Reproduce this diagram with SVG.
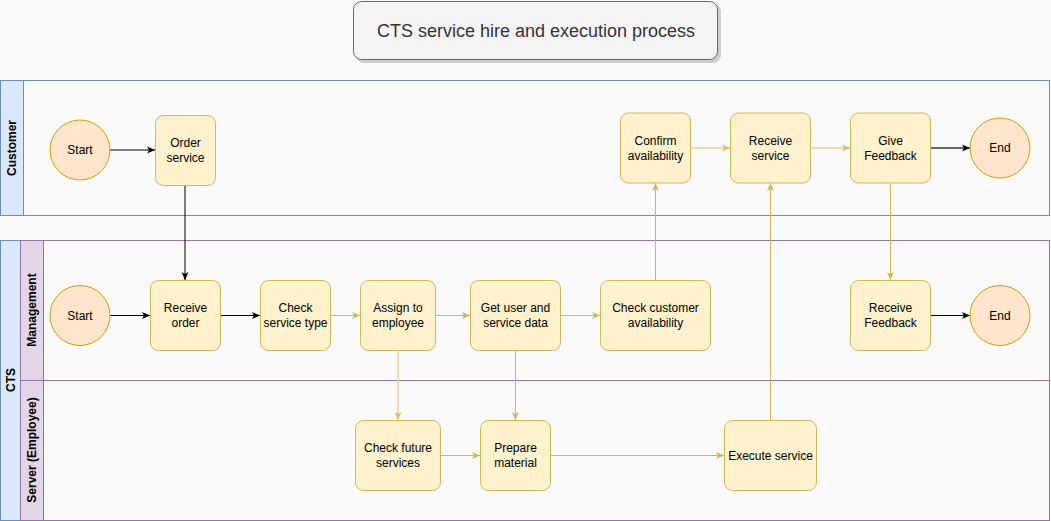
<svg xmlns="http://www.w3.org/2000/svg" width="1051" height="521" viewBox="0 0 1051 521">
<defs>
<style>
text{font-family:"Liberation Sans",Arial,sans-serif;font-size:12px;fill:#000;text-anchor:middle;dominant-baseline:central}
.lbl{font-weight:bold}
.task{fill:#fff2cc;stroke:#d6b656;stroke-width:1}
.ev{fill:#ffe6cc;stroke:#d79b00;stroke-width:1}
.blk{stroke:#000;stroke-width:1;fill:none}
.yel{stroke:#d6b656;stroke-width:1;fill:none}
.lyel{stroke:#e6d193;stroke-width:1.5;fill:none}
.gry{stroke:#666;stroke-width:2;fill:none}
</style>
<marker id="aB" markerUnits="userSpaceOnUse" markerWidth="10" markerHeight="10" viewBox="0 0 10 10" refX="9" refY="5" orient="auto"><path d="M1,1.5 L9,5 L1,8.5 L3,5 Z" fill="#000"/></marker>
<marker id="aY" markerUnits="userSpaceOnUse" markerWidth="10" markerHeight="10" viewBox="0 0 10 10" refX="9" refY="5" orient="auto"><path d="M1,1.5 L9,5 L1,8.5 L3,5 Z" fill="#d6b656"/></marker>
<marker id="aL" markerUnits="userSpaceOnUse" markerWidth="10" markerHeight="10" viewBox="0 0 10 10" refX="9" refY="5" orient="auto"><path d="M1,1.5 L9,5 L1,8.5 L3,5 Z" fill="#dcc070"/></marker>
</defs>
<rect x="0" y="0" width="1051" height="521" fill="#fafafa"/>

<g id="title">
<rect x="356" y="4" width="365" height="59" rx="8" fill="#999" opacity="0.45"/>
<rect x="353.5" y="1.5" width="364" height="58" rx="8" fill="#f5f5f5" stroke="#666"/>
<text x="536" y="31" style="font-size:18px;fill:#333">CTS service hire and execution process</text>
</g>

<g id="pool-customer">
<rect x="0.5" y="80.5" width="1049" height="135" fill="#fafafa" stroke="#6c8ebf"/>
<rect x="0.5" y="80.5" width="23" height="135" fill="#dae8fc" stroke="#6c8ebf"/>
<text class="lbl" transform="translate(12,148) rotate(-90)">Customer</text>
</g>

<g id="pool-cts">
<rect x="0.5" y="240.5" width="1049" height="280" fill="#fafafa" stroke="#9673a6"/>
<rect x="0.5" y="240.5" width="20" height="280" fill="#dae8fc" stroke="#6c8ebf"/>
<text class="lbl" transform="translate(10.5,380) rotate(-90)">CTS</text>
</g>
<g id="lane-management">
<rect x="20.5" y="240.5" width="1029" height="140" fill="#fafafa" stroke="#9673a6"/>
<rect x="20.5" y="240.5" width="23" height="140" fill="#e1d5e7" stroke="#9673a6"/>
<text class="lbl" transform="translate(32,310) rotate(-90)">Management</text>
</g>
<g id="lane-server">
<rect x="20.5" y="380.5" width="1029" height="140" fill="#fafafa" stroke="#9673a6"/>
<rect x="20.5" y="380.5" width="23" height="140" fill="#e1d5e7" stroke="#9673a6"/>
<text class="lbl" transform="translate(32,450) rotate(-90)">Server (Employee)</text>
</g>

<g id="connectors">
<path class="blk" d="M110,150 H155" marker-end="url(#aB)"/>
<path class="blk" d="M185,185 V280" marker-end="url(#aB)"/>
<path class="blk" d="M110,315.5 H150" marker-end="url(#aB)"/>
<path class="blk" d="M220,315.5 H260" marker-end="url(#aB)"/>
<path class="yel" d="M330,315.5 H360" marker-end="url(#aY)"/>
<path class="yel" d="M435,315.5 H470" marker-end="url(#aY)"/>
<path class="yel" d="M560,315.5 H600" marker-end="url(#aY)"/>
<path class="yel" d="M655.5,280 V183" marker-end="url(#aY)"/>
<path class="lyel" d="M690,148 H730" marker-end="url(#aL)"/>
<path class="lyel" d="M810,148 H850" marker-end="url(#aL)"/>
<path class="gry" d="M930,148 H970" marker-end="url(#aB)"/>
<path class="yel" d="M890.5,183 V280" marker-end="url(#aY)"/>
<path class="blk" d="M930,315.5 H970" marker-end="url(#aB)"/>
<path class="lyel" d="M398,350 V420" marker-end="url(#aL)"/>
<path class="yel" d="M515.5,350 V420" marker-end="url(#aY)"/>
<path class="yel" d="M440,455.5 H480" marker-end="url(#aY)"/>
<path class="yel" d="M550,455.5 H724" marker-end="url(#aY)"/>
<path class="yel" d="M770.5,420 V183" marker-end="url(#aY)"/>
</g>

<g id="start-customer"><circle class="ev" cx="80" cy="150" r="30"/><text x="80" y="150">Start</text></g>
<g id="order-service"><rect class="task" x="155.5" y="115.5" width="60" height="70" rx="8"/><text x="185.5" y="142.5">Order</text><text x="185.5" y="157.5">service</text></g>
<g id="confirm-availability"><rect class="task" x="620.5" y="113" width="70" height="70" rx="8"/><text x="655.5" y="141">Confirm</text><text x="655.5" y="156">availability</text></g>
<g id="receive-service"><rect class="task" x="730.5" y="113" width="80" height="70" rx="8"/><text x="770.5" y="141">Receive</text><text x="770.5" y="156">service</text></g>
<g id="give-feedback"><rect class="task" x="850.5" y="113" width="80" height="70" rx="8"/><text x="890.5" y="141">Give</text><text x="890.5" y="156">Feedback</text></g>
<g id="end-customer"><circle class="ev" cx="1000" cy="148" r="30"/><text x="1000" y="148">End</text></g>

<g id="start-management"><circle class="ev" cx="80" cy="315.5" r="30"/><text x="80" y="315.5">Start</text></g>
<g id="receive-order"><rect class="task" x="150.5" y="280.5" width="70" height="70" rx="8"/><text x="185.5" y="308">Receive</text><text x="185.5" y="323">order</text></g>
<g id="check-service-type"><rect class="task" x="260.5" y="280.5" width="70" height="70" rx="8"/><text x="295.5" y="308">Check</text><text x="295.5" y="323">service type</text></g>
<g id="assign-employee"><rect class="task" x="360.5" y="280.5" width="75" height="70" rx="8"/><text x="398" y="308">Assign to</text><text x="398" y="323">employee</text></g>
<g id="get-user-data"><rect class="task" x="470.5" y="280.5" width="90" height="70" rx="8"/><text x="515.5" y="308">Get user and</text><text x="515.5" y="323">service data</text></g>
<g id="check-customer-availability"><rect class="task" x="600.5" y="280.5" width="110" height="70" rx="8"/><text x="655.5" y="308">Check customer</text><text x="655.5" y="323">availability</text></g>
<g id="receive-feedback"><rect class="task" x="850.5" y="280.5" width="80" height="70" rx="8"/><text x="890.5" y="308">Receive</text><text x="890.5" y="323">Feedback</text></g>
<g id="end-management"><circle class="ev" cx="1000" cy="315.5" r="30"/><text x="1000" y="315.5">End</text></g>

<g id="check-future-services"><rect class="task" x="355.5" y="420.5" width="85" height="70" rx="8"/><text x="398" y="448">Check future</text><text x="398" y="463">services</text></g>
<g id="prepare-material"><rect class="task" x="480.5" y="420.5" width="70" height="70" rx="8"/><text x="515.5" y="448">Prepare</text><text x="515.5" y="463">material</text></g>
<g id="execute-service"><rect class="task" x="724.5" y="420.5" width="92" height="70" rx="8"/><text x="770.5" y="455.5">Execute service</text></g>
</svg>
